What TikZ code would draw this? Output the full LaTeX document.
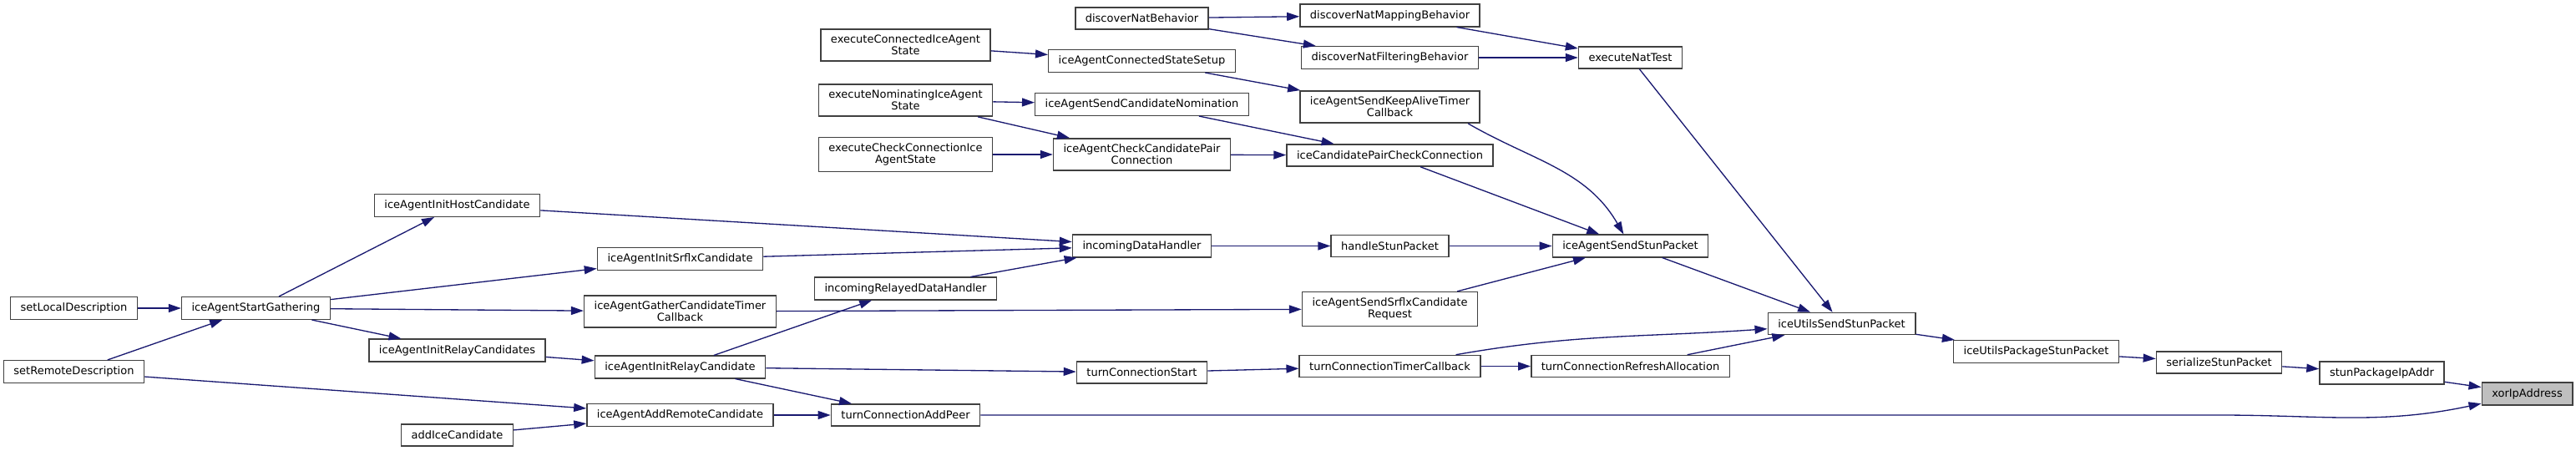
\documentclass[tikz,border=0pt]{standalone}
\usepackage{fontspec}
\setmainfont{DejaVu Sans}
\usetikzlibrary{arrows.meta,calc}
\definecolor{edgeblue}{RGB}{25,25,112}
\definecolor{boxline}{RGB}{64,64,64}
\definecolor{selgray}{RGB}{191,191,191}

\begin{document}
\begin{tikzpicture}[font=\fontsize{7.4}{8.1}\selectfont,
  box/.style={draw=boxline, line width=0.85pt, fill=white, align=center, minimum height=5.2mm, inner xsep=2.4mm, inner ysep=1.4mm},
  arr/.style={draw=edgeblue, line width=0.75pt, -{Triangle[length=3mm, width=2mm]}}]
\useasboundingbox (0,0) rectangle (61.7,-10.8);
\node[box] (sld) at (1.77,-7.38) {setLocalDescription};
\node[box] (srd) at (1.77,-8.90) {setRemoteDescription};
\node[box] (sg) at (6.13,-7.38) {iceAgentStartGathering};
\node[box] (ihc) at (10.95,-4.92) {iceAgentInitHostCandidate};
\node[box] (ircs) at (10.95,-8.39) {iceAgentInitRelayCandidates};
\node[box] (aic) at (10.95,-10.42) {addIceCandidate};
\node[box] (isc) at (16.29,-6.20) {iceAgentInitSrflxCandidate};
\node[box] (gtc) at (16.29,-7.46) {iceAgentGatherCandidateTimer\\Callback};
\node[box] (irc) at (16.29,-8.79) {iceAgentInitRelayCandidate};
\node[box] (arc) at (16.29,-9.94) {iceAgentAddRemoteCandidate};
\node[box] (ecs) at (21.69,-1.08) {executeConnectedIceAgent\\State};
\node[box] (ens) at (21.69,-2.40) {executeNominatingIceAgent\\State};
\node[box] (ecc) at (21.69,-3.70) {executeCheckConnectionIce\\AgentState};
\node[box] (irdh) at (21.69,-6.91) {incomingRelayedDataHandler};
\node[box] (tap) at (21.69,-9.94) {turnConnectionAddPeer};
\node[box] (dnb) at (27.35,-0.44) {discoverNatBehavior};
\node[box] (css) at (27.35,-1.46) {iceAgentConnectedStateSetup};
\node[box] (scn) at (27.35,-2.50) {iceAgentSendCandidateNomination};
\node[box] (ccp) at (27.35,-3.70) {iceAgentCheckCandidatePair\\Connection};
\node[box] (idh) at (27.35,-5.89) {incomingDataHandler};
\node[box] (tcs) at (27.35,-8.92) {turnConnectionStart};
\node[box] (dnm) at (33.29,-0.37) {discoverNatMappingBehavior};
\node[box] (dnf) at (33.29,-1.38) {discoverNatFilteringBehavior};
\node[box] (ska) at (33.29,-2.56) {iceAgentSendKeepAliveTimer\\Callback};
\node[box] (cpc) at (33.29,-3.72) {iceCandidatePairCheckConnection};
\node[box] (hsp) at (33.29,-5.89) {handleStunPacket};
\node[box] (ssr) at (33.29,-7.40) {iceAgentSendSrflxCandidate\\Request};
\node[box] (ttc) at (33.29,-8.77) {turnConnectionTimerCallback};
\node[box] (ent) at (39.05,-1.38) {executeNatTest};
\node[box] (ssp) at (39.05,-5.89) {iceAgentSendStunPacket};
\node[box] (tra) at (39.05,-8.77) {turnConnectionRefreshAllocation};
\node[box] (usp) at (44.11,-7.75) {iceUtilsSendStunPacket};
\node[box] (upk) at (48.77,-8.42) {iceUtilsPackageStunPacket};
\node[box] (ser) at (53.15,-8.68) {serializeStunPacket};
\node[box] (spi) at (57.05,-8.93) {stunPackageIpAddr};
\node[box, fill=selgray] (xor) at (60.53,-9.43) {xorIpAddress};
\draw[arr] (sld) -- (sg);
\draw[arr] (srd) -- (sg);
\draw[arr] (srd) -- (arc);
\draw[arr] (sg) -- (ihc);
\draw[arr] (sg) -- (isc);
\draw[arr] (sg) -- (gtc);
\draw[arr] (sg) -- (ircs);
\draw[arr] (ircs) -- (irc);
\draw[arr] (aic) -- (arc);
\draw[arr] (arc) -- (tap);
\draw[arr] (irc) -- (tap);
\draw[arr] (irc) -- (irdh);
\draw[arr] (irc) -- (tcs);
\draw[arr] (ihc) -- (idh);
\draw[arr] (isc) -- (idh);
\draw[arr] (irdh) -- (idh);
\draw[arr] (gtc) -- (ssr);
\draw[arr] (idh) -- (hsp);
\draw[arr] (hsp) -- (ssp);
\draw[arr] (ssr) -- (ssp);
\draw[arr] (tcs) -- (ttc);
\draw[arr] (ttc) -- (tra);
\draw[arr] ([xshift=-6mm]ttc.north east) to[out=10, in=184] (usp);
\draw[arr] (tra) -- (usp);
\draw[arr] (ssp) -- (usp);
\draw[arr] (ent) -- (usp);
\draw[arr] (dnb) -- (dnm);
\draw[arr] (dnb) -- (dnf);
\draw[arr] (dnm) -- (ent);
\draw[arr] (dnf) -- (ent);
\draw[arr] (ecs) -- (css);
\draw[arr] (css) -- (ska);
\draw[arr] (ska.-12) to[out=-30, in=120] (ssp);
\draw[arr] (ens) -- (scn);
\draw[arr] (ens) -- (ccp);
\draw[arr] (ecc) -- (ccp);
\draw[arr] (scn) -- (cpc);
\draw[arr] (ccp) -- (cpc);
\draw[arr] (cpc) -- (ssp);
\draw[arr] (usp) -- (upk);
\draw[arr] (upk) -- (ser);
\draw[arr] (ser) -- (spi);
\draw[arr] (spi) -- (xor);
\draw[arr] (tap) -- (ser |- tap) to[out=0, in=192] (xor);
\end{tikzpicture}
\end{document}
